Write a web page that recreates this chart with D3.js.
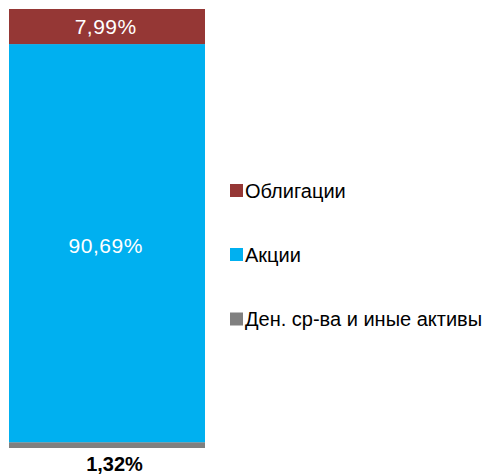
<!DOCTYPE html>
<html><head><meta charset="utf-8">
<script src="https://cdn.jsdelivr.net/npm/d3@7"></script>
<style>body{margin:0;background:#fff}svg{display:block}text{font-family:"Liberation Sans",Arial,sans-serif}</style>
</head><body>
<script>
const categories = ["Ден. ср-ва и иные активы", "Акции", "Облигации"];
const values = [1.32, 90.69, 7.99];
const labels = ["1,32%", "90,69%", "7,99%"];
const colors = ["#808080", "#00B0F0", "#953735"];

const W = 485, H = 474;
const svg = d3.select("body").append("svg").attr("width", W).attr("height", H);

const y = d3.scaleLinear().domain([0, d3.sum(values)]).range([448, 9]);
const x = d3.scaleBand().domain(["fund"]).range([9, 205]).padding(0);

let acc = 0;
const segs = values.map((v, i) => { const s = {v, i, y0: acc, y1: acc + v}; acc += v; return s; });

svg.selectAll("rect.seg").data(segs).enter().append("rect")
  .attr("x", x("fund")).attr("width", x.bandwidth())
  .attr("y", d => y(d.y1)).attr("height", d => y(d.y0) - y(d.y1))
  .attr("fill", d => colors[d.i]);

// labels
svg.append("text").attr("x", 114.5).attr("y", 471).attr("text-anchor", "middle")
  .attr("font-size", 20).attr("font-weight", "bold").attr("fill", "#000").text(labels[0]);
const labelShift = [0, 3, 0];
[1, 2].forEach(i => {
  const s = segs[i];
  svg.append("text").attr("x", 105.7)
    .attr("y", (y(s.y0) + y(s.y1)) / 2 + labelShift[i]).attr("dy", "0.35em")
    .attr("text-anchor", "middle").attr("font-size", 21).attr("letter-spacing", 0.5)
    .attr("fill", "#fff").text(labels[i]);
});

// legend
const legendY = [319, 254.5, 190.5];
categories.forEach((c, i) => {
  const g = svg.append("g").attr("transform", `translate(230,${legendY[i]})`);
  g.append("rect").attr("x", 0).attr("y", -6.5).attr("width", 13).attr("height", 13).attr("fill", colors[i]);
  g.append("text").attr("x", 15).attr("y", 0).attr("dy", "0.35em").attr("font-size", 20).attr("fill", "#000").text(c);
});
</script>
</body></html>
